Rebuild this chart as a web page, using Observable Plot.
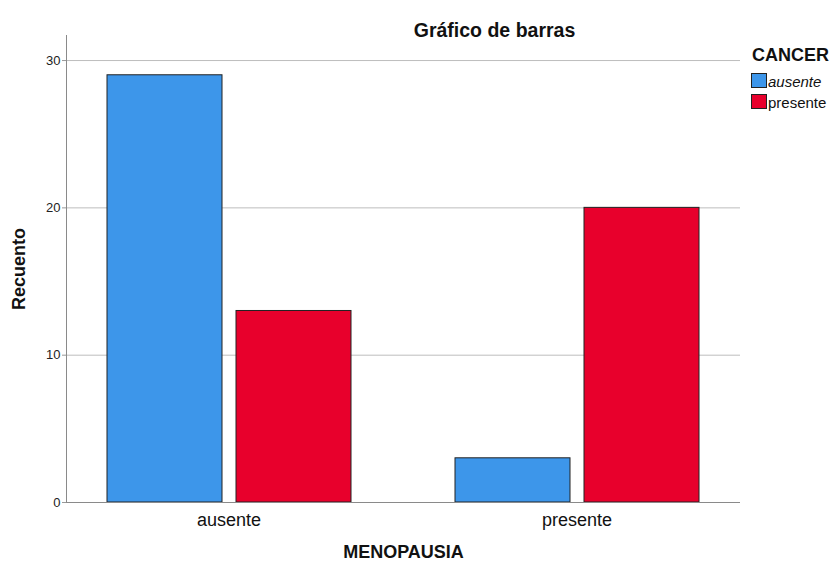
<!DOCTYPE html>
<html>
<head>
<meta charset="utf-8">
<script src="https://cdn.jsdelivr.net/npm/d3@7"></script>
<script src="https://cdn.jsdelivr.net/npm/@observablehq/plot@0.6"></script>
<style>
  body { margin: 0; background: #fff; font-family: "Liberation Sans", Arial, sans-serif; }
  #wrap { position: relative; width: 836px; height: 572px; }
  .leg { position: absolute; color: #111; white-space: nowrap; }
  .sw { position: absolute; width: 14px; height: 13px; border: 1px solid #222; }
</style>
</head>
<body>
<div id="wrap"></div>
<script>
// ---- data ----
const menopausia = ["ausente", "presente"];          // x categories
const cancerLevels = ["ausente", "presente"];        // series
const cancerAusente = [29, 3];                       // counts, CANCER = ausente
const cancerPresente = [13, 20];                     // counts, CANCER = presente
const yTicks = [0, 10, 20, 30];
const colors = ["#3d96ea", "#e8002c"];
const title = "Gráfico de barras";
const xLabel = "MENOPAUSIA";
const yLabel = "Recuento";
const legendTitle = "CANCER";

const rows = menopausia.flatMap((m, i) => [
  {m, c: cancerLevels[0], n: cancerAusente[i]},
  {m, c: cancerLevels[1], n: cancerPresente[i]}
]);

const chart = Plot.plot({
  width: 836,
  height: 572,
  marginLeft: 66,
  marginRight: 96,
  marginTop: 35,
  marginBottom: 70,
  style: {fontFamily: "'Liberation Sans', Arial, sans-serif", background: "white", color: "#222"},
  x: {domain: menopausia, paddingInner: 0.1, paddingOuter: 0.0157},
  y: {domain: [0, 31.7]},
  color: {domain: cancerLevels, range: colors},
  marks: [
    Plot.gridY({ticks: yTicks.filter(d => d > 0), stroke: "#bdbdbd", strokeOpacity: 1}),
    Plot.barY(rows.filter(d => d.c === cancerLevels[0]), {x: "m", y: "n", fill: "c", stroke: "#222", strokeWidth: 1, insetLeft: 35, insetRight: 163}),
    Plot.barY(rows.filter(d => d.c === cancerLevels[1]), {x: "m", y: "n", fill: "c", stroke: "#222", strokeWidth: 1, insetLeft: 164, insetRight: 34}),
    Plot.ruleY([0], {stroke: "#8a8a8a"}),
    Plot.frame({anchor: "left", stroke: "#8a8a8a"}),
    Plot.axisY({ticks: yTicks, tickSize: 4, tickPadding: 2, fontSize: 13, label: null, stroke: "#999", color: "#222"}),
    Plot.axisX({tickSize: 0, tickPadding: 11, fontSize: 18, label: null, color: "#111"}),
    Plot.text([xLabel], {frameAnchor: "bottom", dy: 55, fontWeight: "bold", fontSize: 18, fill: "#111"}),
    Plot.text([yLabel], {frameAnchor: "left", textAnchor: "middle", rotate: -90, dx: -47, fontWeight: "bold", fontSize: 18, fill: "#111"}),
    Plot.text([title], {frameAnchor: "top", textAnchor: "middle", dx: 91, dy: -12, fontWeight: "bold", fontSize: 19.5, fill: "#111"})
  ]
});

const wrap = document.getElementById("wrap");
wrap.appendChild(chart);

// legend
const lt = document.createElement("div");
lt.className = "leg";
lt.style.cssText = "left:752px;top:46px;font-size:18px;line-height:18px;font-weight:bold;";
lt.textContent = legendTitle;
wrap.appendChild(lt);
cancerLevels.forEach((lvl, i) => {
  const sw = document.createElement("div");
  sw.className = "sw";
  sw.style.left = "751px";
  sw.style.top = (73 + i * 21) + "px";
  sw.style.background = colors[i];
  wrap.appendChild(sw);
  const t = document.createElement("div");
  t.className = "leg";
  t.style.cssText = `left:768px;top:${74 + i * 21}px;font-size:15px;line-height:15px;` + (i === 0 ? "font-style:italic;" : "");
  t.textContent = lvl;
  wrap.appendChild(t);
});
chart.style.position = "absolute";
chart.style.left = "0";
chart.style.top = "0";
</script>
</body>
</html>
